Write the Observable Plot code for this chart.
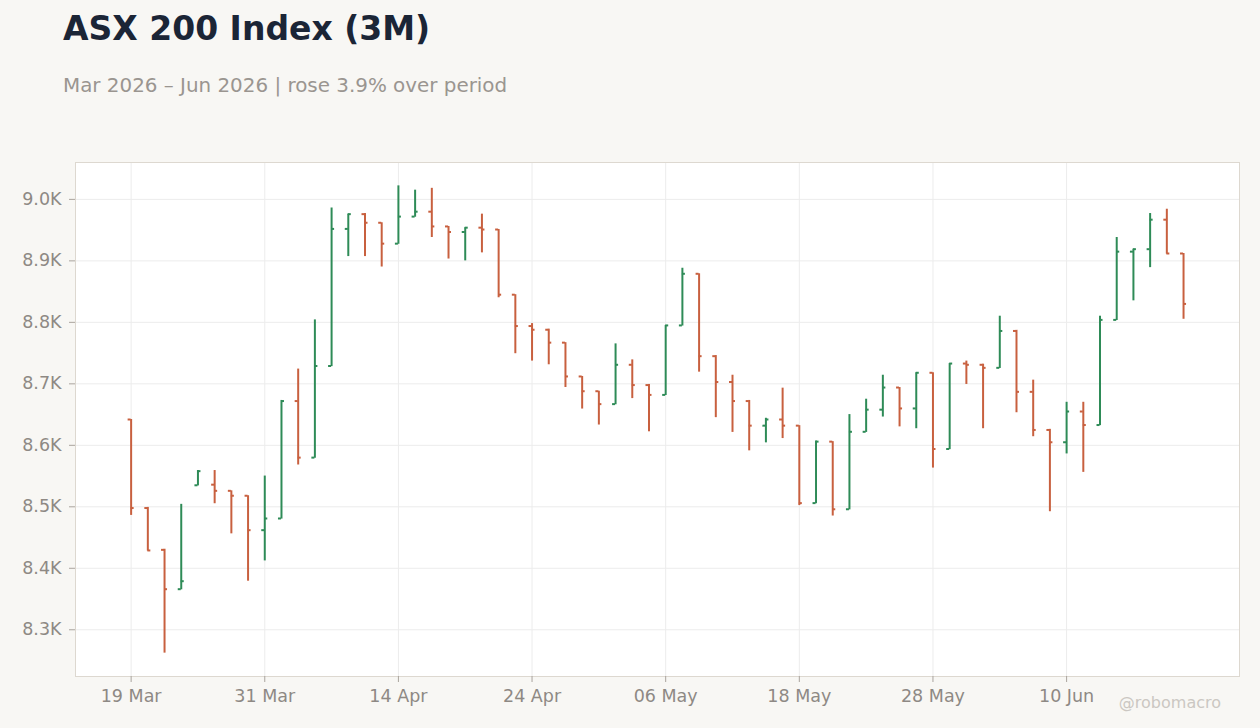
<!DOCTYPE html>
<html>
<head>
<meta charset="utf-8">
<script src="https://cdn.jsdelivr.net/npm/d3@7"></script>
<script src="https://cdn.jsdelivr.net/npm/@observablehq/plot@0.6"></script>
<style>
  html, body { margin: 0; padding: 0; background: #f8f7f4; width: 1260px; height: 728px; overflow: hidden; font-family: "DejaVu Sans", sans-serif; }
  #title { position: absolute; left: 63px; top: 12px; font-size: 33px; line-height: 1; font-weight: bold; color: #1b2536; white-space: nowrap; }
  #subtitle { position: absolute; left: 63px; top: 76px; font-size: 19.9px; line-height: 1; color: #9a9590; white-space: nowrap; }
  #chart { position: absolute; left: 0; top: 130px; }
  #credit { position: absolute; right: 39px; top: 695px; font-size: 16px; line-height: 1; color: #cbc7c2; white-space: nowrap; }
</style>
</head>
<body>
<div id="title">ASX 200 Index (3M)</div>
<div id="subtitle">Mar 2026 – Jun 2026 | rose 3.9% over period</div>
<div id="chart"></div>
<div id="credit">@robomacro</div>
<script>
const dates = ["2026-03-19","2026-03-20","2026-03-23","2026-03-24","2026-03-25","2026-03-26","2026-03-27","2026-03-30","2026-03-31",
  "2026-04-01","2026-04-02","2026-04-07","2026-04-08","2026-04-09","2026-04-10","2026-04-13","2026-04-14","2026-04-15","2026-04-16",
  "2026-04-17","2026-04-20","2026-04-21","2026-04-22","2026-04-23","2026-04-24","2026-04-27","2026-04-28","2026-04-29","2026-04-30",
  "2026-05-01","2026-05-04","2026-05-05","2026-05-06","2026-05-07","2026-05-08","2026-05-11","2026-05-12","2026-05-13","2026-05-14",
  "2026-05-15","2026-05-18","2026-05-19","2026-05-20","2026-05-21","2026-05-22","2026-05-25","2026-05-26","2026-05-27","2026-05-28",
  "2026-05-29","2026-06-01","2026-06-02","2026-06-03","2026-06-04","2026-06-05","2026-06-09","2026-06-10","2026-06-11","2026-06-12",
  "2026-06-15","2026-06-16","2026-06-17","2026-06-18","2026-06-19"];
const open  = [8642,8498,8430,8366,8535,8536,8526,8518,8462,8481,8672,8580,8729,8952,8976,8962,8928,8972,8980,8956,8947,8954,8951,8845,8794,8788,8767,8712,8688,8667,8731,8698,8682,8795,8879,8745,8703,8672,8632,8642,8632,8506,8606,8496,8622,8658,8694,8660,8718,8594,8733,8731,8726,8786,8687,8625,8605,8655,8633,8804,8915,8919,8967,8912];
const high  = [8642,8499,8431,8504,8559,8559,8526,8518,8550,8673,8724,8804,8986,8976,8977,8962,9022,9015,9018,8956,8954,8976,8951,8845,8798,8789,8767,8712,8688,8765,8739,8699,8795,8888,8879,8746,8714,8673,8644,8693,8632,8607,8606,8650,8675,8714,8694,8718,8718,8733,8737,8732,8810,8787,8706,8626,8670,8670,8810,8938,8919,8977,8984,8912];
const low   = [8486,8428,8262,8365,8534,8505,8456,8379,8412,8480,8568,8579,8728,8907,8907,8890,8927,8971,8938,8903,8900,8913,8840,8749,8737,8731,8694,8659,8633,8666,8676,8622,8681,8794,8719,8645,8621,8591,8604,8611,8502,8505,8485,8495,8621,8646,8630,8627,8563,8593,8699,8627,8725,8653,8614,8492,8586,8556,8632,8803,8835,8889,8911,8805];
const close = [8498,8429,8366,8379,8558,8526,8518,8462,8481,8672,8580,8729,8952,8976,8962,8928,8972,8980,8956,8947,8954,8951,8845,8794,8788,8767,8712,8688,8667,8731,8698,8682,8795,8879,8745,8703,8672,8632,8642,8632,8506,8606,8496,8622,8658,8694,8660,8718,8594,8733,8731,8726,8786,8687,8625,8605,8655,8633,8804,8915,8919,8967,8912,8830];
const xTickIndex = [0, 8, 16, 24, 32, 40, 48, 56];
const yTicks = [8300, 8400, 8500, 8600, 8700, 8800, 8900, 9000];

const upColor = "#2e8b57";
const downColor = "#c8603f";

const parse = d3.utcParse("%Y-%m-%d");
const fmt = d3.utcFormat("%d %b");
const data = dates.map((d, i) => ({i, date: parse(d), open: open[i], high: high[i], low: low[i], close: close[i]}));
const col = d => d.close >= d.open ? upColor : downColor;
const tickLen = 0.18;

const chart = Plot.plot({
  width: 1260,
  height: 598,
  marginTop: 32,
  marginBottom: 52,
  marginLeft: 75,
  marginRight: 21,
  style: {background: "transparent", fontFamily: "DejaVu Sans", fontSize: "17.5px", overflow: "visible"},
  x: {type: "linear", domain: [-3.33, 66.35], label: null},
  y: {domain: [8224, 9060], label: null},
  marks: [
    Plot.frame({fill: "white", stroke: "none"}),
    Plot.gridX(xTickIndex, {stroke: "#ececec", strokeOpacity: 1}),
    Plot.gridY(yTicks, {stroke: "#ececec", strokeOpacity: 1}),
    Plot.frame({stroke: "#ddd8d0", strokeOpacity: 1}),
    Plot.axisX(xTickIndex, {tickFormat: i => fmt(data[i].date), tickSize: 6, tickPadding: 7, color: "#8e8984", stroke: "#aaa49e", label: null}),
    Plot.axisY(yTicks, {tickFormat: d => (d / 1000).toFixed(1) + "K", tickSize: 6, tickPadding: 8, color: "#8e8984", stroke: "#aaa49e", label: null}),
    Plot.ruleX(data, {x: "i", y1: "low", y2: "high", stroke: col, strokeWidth: 2}),
    Plot.ruleY(data, {y: "open", x1: d => d.i - tickLen, x2: "i", stroke: col, strokeWidth: 2}),
    Plot.ruleY(data, {y: "close", x1: "i", x2: d => d.i + tickLen, stroke: col, strokeWidth: 2})
  ]
});
document.getElementById("chart").appendChild(chart);
</script>
</body>
</html>
